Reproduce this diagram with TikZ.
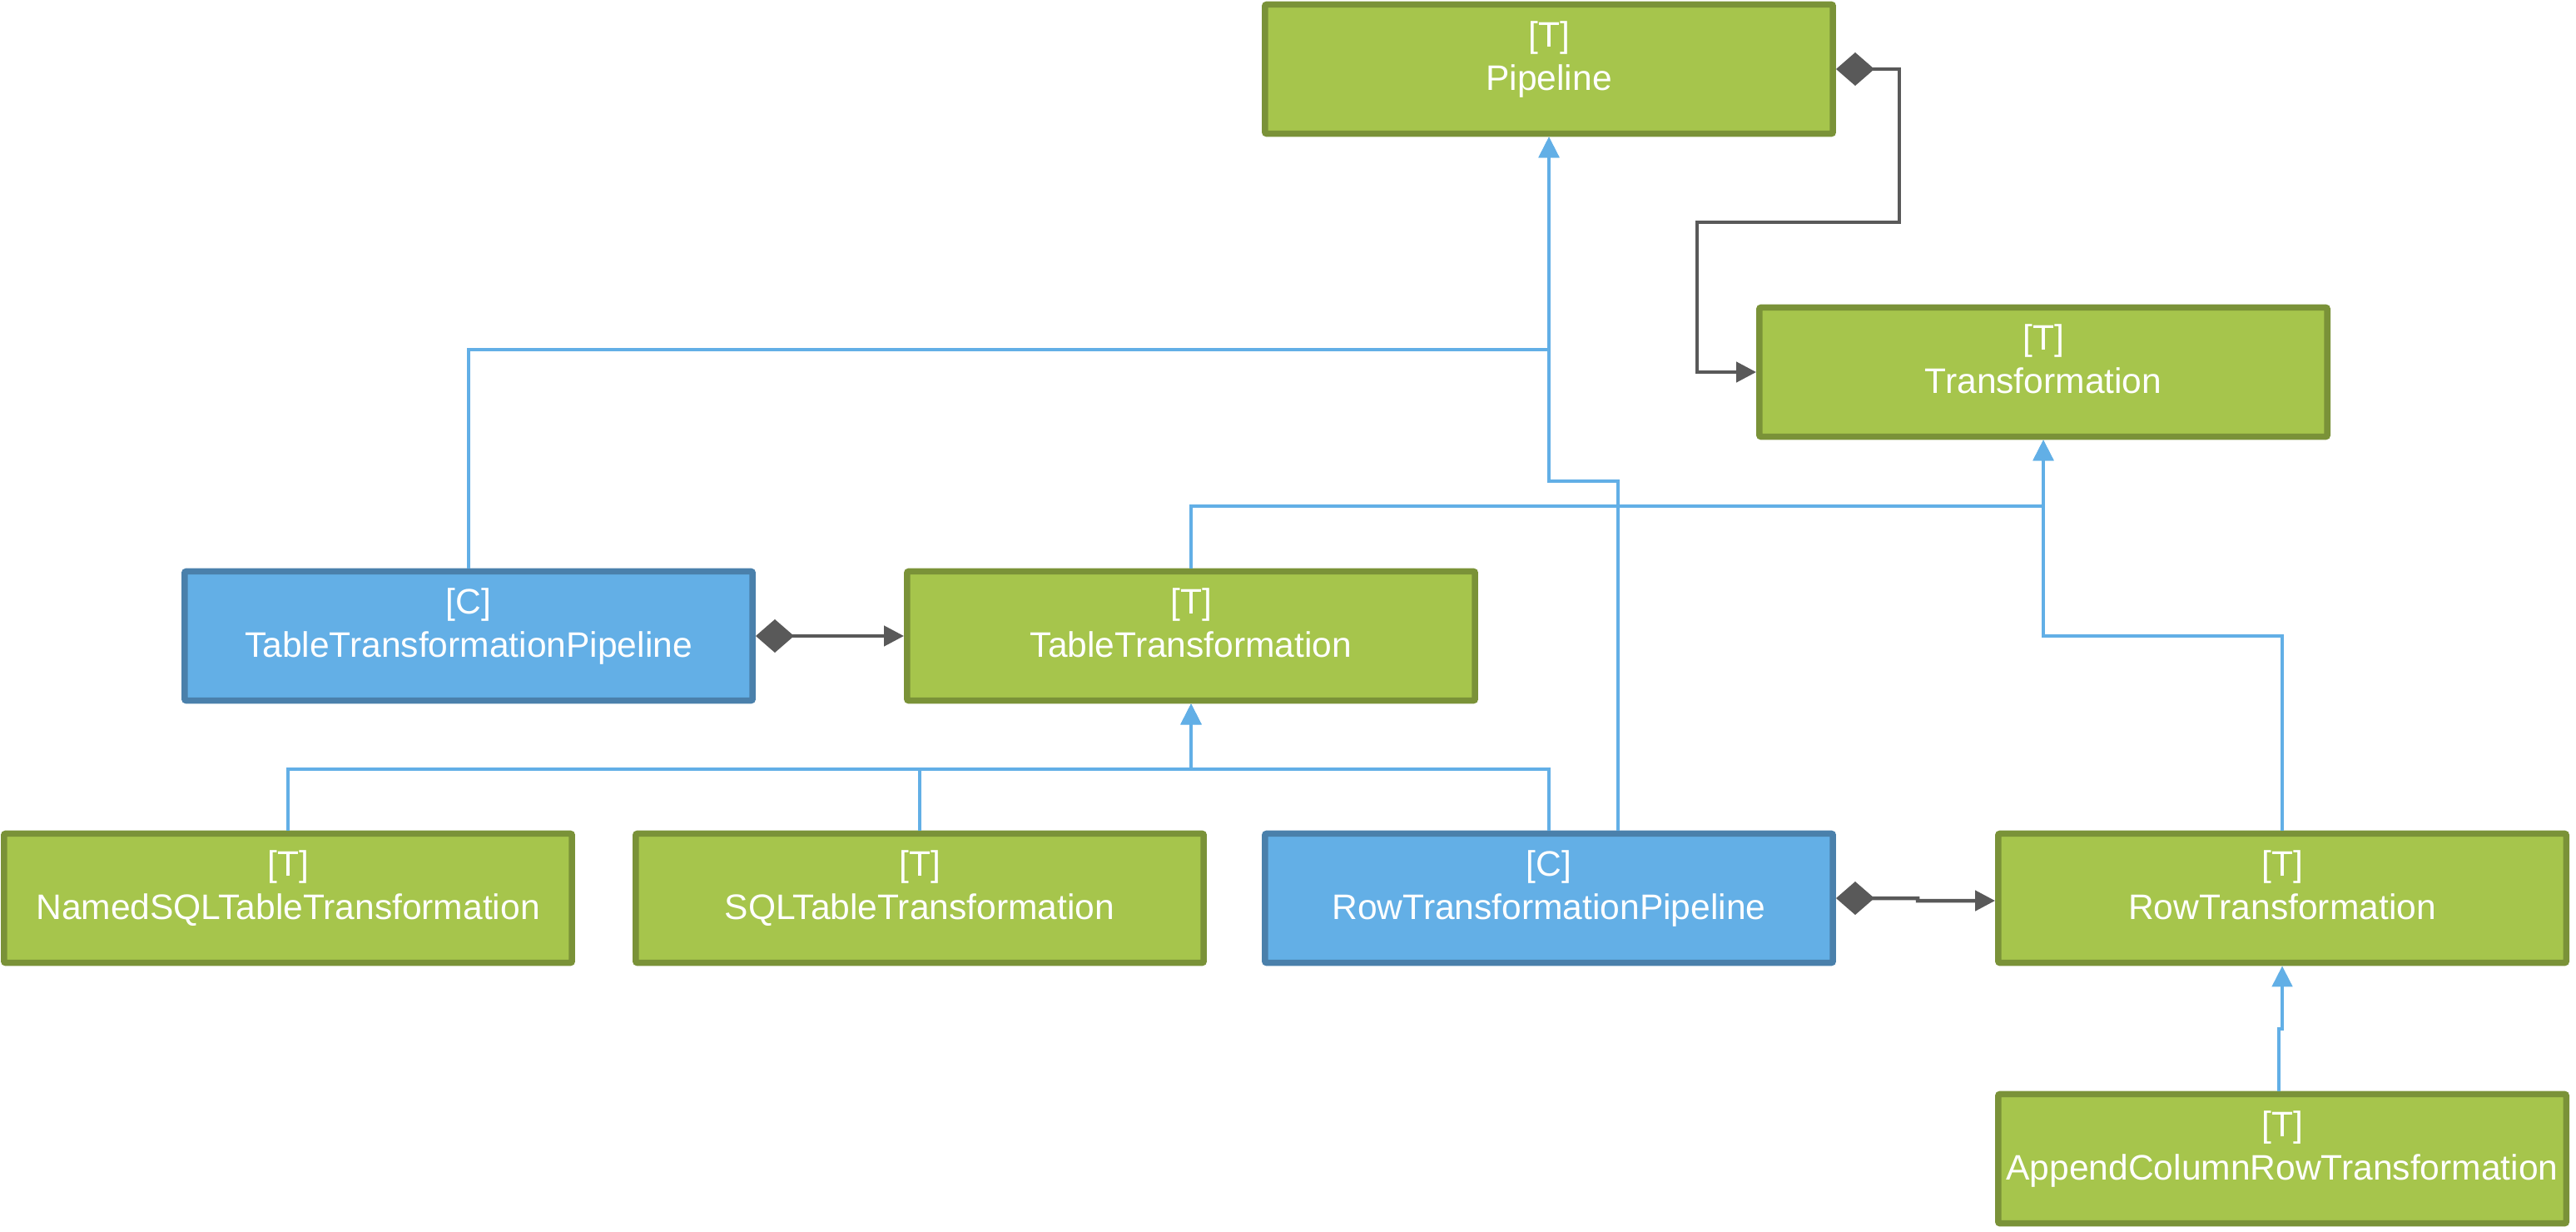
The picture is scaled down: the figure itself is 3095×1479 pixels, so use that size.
\documentclass[tikz,border=0pt]{standalone}
\usepackage{fontspec}
\setmainfont{Liberation Sans}
\usetikzlibrary{arrows.meta}
\definecolor{gfill}{HTML}{A6C54C}
\definecolor{gline}{HTML}{7A9238}
\definecolor{bfill}{HTML}{63AFE6}
\definecolor{bline}{HTML}{4A80AB}
\definecolor{connblue}{HTML}{62AFE6}
\definecolor{compgray}{HTML}{595959}
\tikzset{
  box/.style={rectangle, minimum width=6.82cm, minimum height=1.55cm, line width=0.075cm, rounded corners=0.02cm, inner sep=0pt},
  gbox/.style={box, fill=gfill, draw=gline},
  cbox/.style={box, fill=bfill, draw=bline},
  lbl/.style={anchor=base, text=white, font=\fontsize{12.1}{14}\selectfont, inner sep=0pt},
  gen/.style={draw=connblue, line width=0.045cm, -{Triangle[length=0.25cm,width=0.24cm]}},
  compo/.style={draw=compgray, line width=0.045cm, {Diamond[length=0.46cm,width=0.40cm]}-{Triangle[length=0.24cm,width=0.24cm]}}
}
\newcommand{\umlbox}[6]{%
  \node[#2] (#1) at (#3,#4) {};
  \node[lbl] (#1-s) at ([yshift=-0.55cm]#1.north) {#5};
  \node[lbl] (#1-n) at ([yshift=-1.07cm]#1.north) {#6};
}
\begin{document}
\begin{tikzpicture}[x=0.01cm, y=-0.01cm]
\useasboundingbox (0,0) rectangle (3095,1479);
\umlbox{pipe}{gbox}{1861}{83}{[T]}{Pipeline}
\umlbox{trans}{gbox}{2455}{447}{[T]}{Transformation}
\umlbox{ttp}{cbox}{563}{764}{[C]}{TableTransformationPipeline}
\umlbox{tt}{gbox}{1431}{764}{[T]}{TableTransformation}
\umlbox{named}{gbox}{346}{1079}{[T]}{NamedSQLTableTransformation}
\umlbox{sql}{gbox}{1105}{1079}{[T]}{SQLTableTransformation}
\umlbox{rtp}{cbox}{1861}{1079}{[C]}{RowTransformationPipeline}
\umlbox{rt}{gbox}{2742}{1079}{[T]}{RowTransformation}
\umlbox{append}{gbox}{2742}{1392}{[T]}{AppendColumnRowTransformation}
% generalizations
\draw[gen] (ttp.north) |- (1861,420) -- (pipe.south);
\draw[gen] ([xshift=0.83cm]rtp.north) |- (1861,578) -- (pipe.south);
\draw[gen] (tt.north) |- (2455,608) -- (trans.south);
\draw[gen] (rt.north) |- (2455,764) -- (trans.south);
\draw[gen] (named.north) |- (1431,924) -- (tt.south);
\draw[gen] (sql.north) |- (1431,924) -- (tt.south);
\draw[gen] (rtp.north) |- (1431,924) -- (tt.south);
\draw[gen] ([xshift=-0.04cm]append.north) |- (2742,1236) -- (rt.south);
% compositions
\draw[compo] (ttp.east) -- (tt.west);
\draw[compo] (rtp.east) -- (2304,1079) -- (2304,1082) -- ([yshift=-0.03cm]rt.west);
\draw[compo] (pipe.east) -- (2282,83) |- (2039,267) |- (trans.west);
\end{tikzpicture}
\end{document}
